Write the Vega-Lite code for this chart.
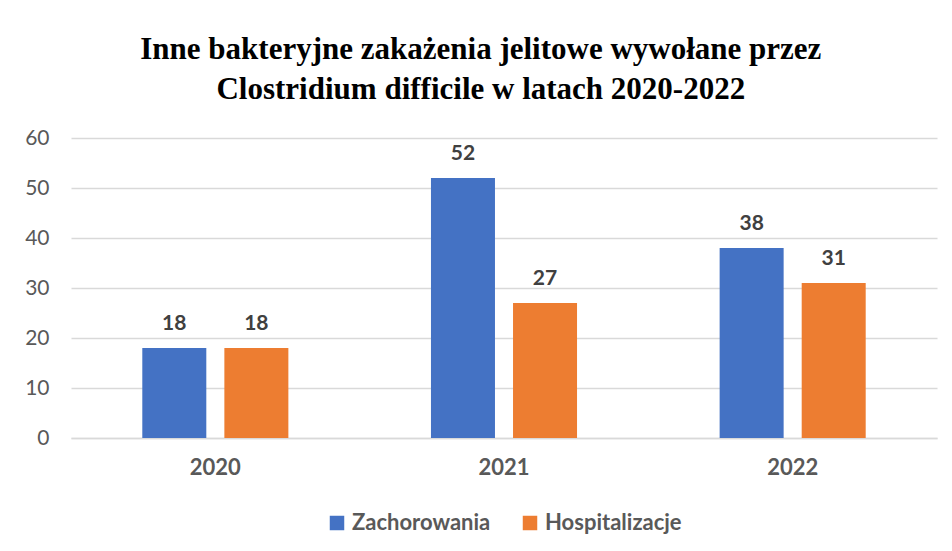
{
  "$schema": "https://vega.github.io/schema/vega-lite/v6.json",
  "width": 866,
  "height": 300,
  "padding": {"left": 24, "top": 34, "right": 10, "bottom": 5},
  "background": "white",
  "title": {
    "text": ["Inne bakteryjne zakażenia jelitowe wywołane przez", "Clostridium difficile w latach 2020-2022"],
    "font": "Liberation Serif",
    "fontSize": 31,
    "fontWeight": "bold",
    "color": "#000000",
    "lineHeight": 40,
    "anchor": "middle",
    "frame": "bounds",
    "offset": 21
  },
  "data": {
    "values": [
      {"rok": "2020", "seria": "Zachorowania", "wartosc": 18},
      {"rok": "2020", "seria": "Hospitalizacje", "wartosc": 18},
      {"rok": "2021", "seria": "Zachorowania", "wartosc": 52},
      {"rok": "2021", "seria": "Hospitalizacje", "wartosc": 27},
      {"rok": "2022", "seria": "Zachorowania", "wartosc": 38},
      {"rok": "2022", "seria": "Hospitalizacje", "wartosc": 31}
    ]
  },
  "encoding": {
    "x": {
      "field": "rok",
      "type": "nominal",
      "title": null,
      "scale": {"paddingInner": 0.494, "paddingOuter": 0.247},
      "axis": {
        "labelAngle": 0,
        "labelFont": "Lato",
        "labelFontSize": 22,
        "labelFontWeight": "bold",
        "labelColor": "#595959",
        "labelPadding": 19,
        "ticks": false,
        "domainColor": "#D9D9D9",
        "domainWidth": 1.5
      }
    },
    "xOffset": {
      "field": "seria",
      "sort": ["Zachorowania", "Hospitalizacje"],
      "scale": {"paddingInner": 0.22, "paddingOuter": 0}
    },
    "y": {
      "field": "wartosc",
      "type": "quantitative",
      "title": null,
      "scale": {"domain": [0, 60]},
      "axis": {
        "values": [0, 10, 20, 30, 40, 50, 60],
        "labelFont": "Lato",
        "labelFontSize": 21,
        "labelColor": "#595959",
        "labelPadding": 22,
        "ticks": false,
        "domain": false,
        "gridColor": "#D9D9D9",
        "gridWidth": 1.3
      }
    }
  },
  "layer": [
    {
      "mark": {"type": "bar"},
      "encoding": {
        "color": {
          "field": "seria",
          "type": "nominal",
          "sort": ["Zachorowania", "Hospitalizacje"],
          "scale": {"domain": ["Zachorowania", "Hospitalizacje"], "range": ["#4472C4", "#ED7D31"]},
          "legend": {
            "title": null,
            "orient": "bottom",
            "direction": "horizontal",
            "symbolType": "square",
            "symbolSize": 210,
            "symbolStrokeWidth": 0,
            "labelFont": "Lato",
            "labelFontSize": 22,
            "labelFontWeight": "bold",
            "labelColor": "#595959",
            "columnPadding": 28,
            "offset": 34
          }
        }
      }
    },
    {
      "mark": {"type": "text", "baseline": "bottom", "dy": -14, "font": "Lato", "fontSize": 21, "fontWeight": "bold", "color": "#404040"},
      "encoding": {
        "text": {"field": "wartosc", "type": "quantitative"}
      }
    }
  ],
  "config": {
    "view": {"stroke": null},
    "legend": {"layout": {"bottom": {"anchor": "middle"}}}
  }
}
